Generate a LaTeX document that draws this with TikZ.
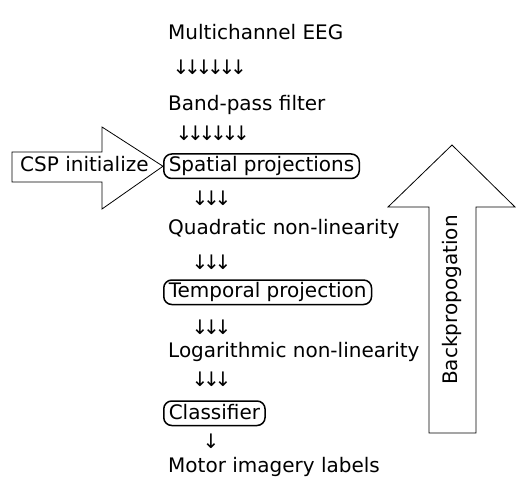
\documentclass[tikz,border=0pt]{standalone}
\usepackage{fontspec}
\setmainfont{DejaVu Sans}
\usetikzlibrary{positioning,calc}

\newcommand{\downarrows}[1]{\foreach \i in {1,...,#1}{\makebox[11.5pt]{↓}}}

\begin{document}
\begin{tikzpicture}[x=1pt, y=-1pt,
    label text/.style={anchor=base west, inner xsep=5pt, inner ysep=3pt, text height=15pt, text depth=3.5pt, font=\fontsize{20}{24}\selectfont},
    stage box/.style={label text, draw, line width=1.5pt, rounded corners=8pt},
    arrow row/.style={anchor=west, inner sep=0pt, font=\fontsize{20}{24}\selectfont},
    big arrow/.style={draw, line width=0.8pt}]
    \useasboundingbox (0,0) rectangle (528,484);

    % pipeline
    \node[label text] (eeg) at (163, 40) {Multichannel EEG};
    \node[arrow row] (a1) at (175, 67) {\downarrows{6}};
    \node[label text] (band) at (163, 111) {Band-pass filter};
    \node[arrow row] (a2) at (178, 133) {\downarrows{6}};
    \node[stage box] (spatial) at (163, 172) {Spatial projections};
    \node[arrow row] (a3) at (194, 198) {\downarrows{3}};
    \node[label text] (quad) at (163, 234) {Quadratic non-linearity};
    \node[arrow row] (a4) at (194, 262) {\downarrows{3}};
    \node[stage box] (temporal) at (163, 298) {Temporal projection};
    \node[arrow row] (a5) at (194, 327) {\downarrows{3}};
    \node[label text] (log) at (163, 357) {Logarithmic non-linearity};
    \node[arrow row] (a6) at (194, 379) {\downarrows{3}};
    \node[stage box] (clf) at (163, 419) {Classifier};
    \node[arrow row] (a7) at (205, 441) {\downarrows{1}};
    \node[label text] (labels) at (163, 472) {Motor imagery labels};

    % CSP arrow
    \draw[big arrow] (12,152) -- (102,152) -- (102,127) -- (spatial.west) -- (102,209) -- (102,182) -- (12,182) -- cycle;
    \node[label text, inner xsep=0pt] (csp) at (20, 172) {CSP initialize};

    % Backpropagation arrow
    \draw[big arrow] (429,433) -- (429,207) -- (388,207) -- (452,145) -- (515,207) -- (476,207) -- (476,433) -- cycle;
    \node[rotate=90, font=\fontsize{20}{24}\selectfont] (backprop) at (452, 300) {Backpropogation};
\end{tikzpicture}
\end{document}
